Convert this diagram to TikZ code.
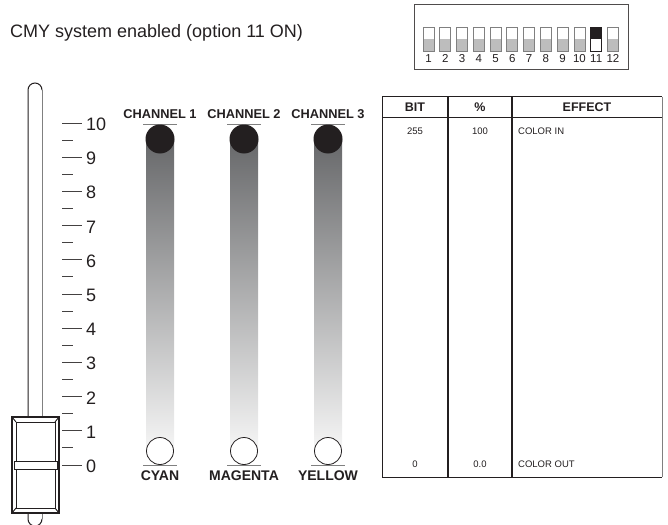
\documentclass[tikz,border=0pt]{standalone}
\usepackage{fontspec}
\setmainfont{Liberation Sans}
\definecolor{ink}{HTML}{231F20}
\definecolor{swgray}{HTML}{BDBDBD}
\definecolor{linegray}{HTML}{808080}
\definecolor{gradtop}{HTML}{67686A}
\definecolor{gradbot}{HTML}{F6F6F6}
\begin{document}
\begin{tikzpicture}[x=1pt,y=-1pt,
  lbl/.style={inner sep=0pt, text=ink},
  big/.style={lbl, font=\fontsize{18}{20}\selectfont},
  chlbl/.style={lbl, font=\bfseries\fontsize{12.8}{14}\selectfont, anchor=base},
  collbl/.style={lbl, font=\bfseries\fontsize{14}{16}\selectfont, anchor=base},
  hdr/.style={lbl, font=\bfseries\fontsize{12.5}{14}\selectfont},
  cell/.style={lbl, font=\fontsize{9.5}{11}\selectfont},
  dipnum/.style={lbl, font=\fontsize{11.5}{13}\selectfont, anchor=base},
  swbox/.style={draw=linegray, line width=0.8pt},
  tick/.style={draw=ink!85, line width=0.9pt},
]
\useasboundingbox (0,0) rectangle (668,524);

% title
\node[big, anchor=base west] (title) at (10,38) {CMY system enabled (option 11 ON)};

% DIP switch
\draw[ink!80, line width=0.9pt] (414,4) rectangle (628,69);
\foreach \i in {1,...,12} {
  \pgfmathsetmacro\xl{423+(\i-1)*16.77}
  \ifnum\i=11
    \fill[ink] (\xl,27) rectangle ++(11,12);
    \draw[draw=ink, line width=0.8pt] (\xl,27) rectangle ++(11,24);
  \else
    \fill[swgray] (\xl,39) rectangle ++(11,12);
    \draw[swbox] (\xl,27) rectangle ++(11,24);
  \fi
  \node[dipnum] (d\i) at (\xl+5.5,63) {\i};
}

% slider track
\draw[ink, line width=1pt] (28,417) -- (28,90) arc (180:0:7pt);
\draw[linegray, line width=1pt] (42,90) -- (42,417);
\draw[ink, line width=1pt] (28,513) -- (28,519) arc (180:360:7pt);
\draw[linegray, line width=1pt] (42,519) -- (42,513);

% slider knob
\filldraw[fill=white, draw=ink, line width=1.1pt] (12,417) rectangle (59,513);
\draw[ink, line width=0.9pt] (16,422) rectangle (55,508);
\draw[ink, line width=0.9pt] (12,417) -- (16,422) (59,417) -- (55,422)
  (12,513) -- (16,508) (59,513) -- (55,508);
\filldraw[fill=white, draw=ink, line width=0.9pt] (14,461) rectangle (57,469);

% scale
\foreach \v in {0,...,10} {
  \pgfmathsetmacro\yy{465-\v*34.2}
  \draw[tick] (62,\yy) -- (82,\yy);
  \node[big, anchor=base west] (s\v) at (86,\yy+7.5) {\v};
}
\foreach \v in {0,...,9} {
  \pgfmathsetmacro\yy{465-(\v+0.5)*34.2}
  \draw[tick] (62,\yy) -- (73,\yy);
}

% channels
\foreach \c/\lab/\bot/\k in {160/CHANNEL 1/CYAN/1, 244/CHANNEL 2/MAGENTA/2, 328/CHANNEL 3/YELLOW/3} {
  \shade[top color=gradtop, bottom color=gradbot] (\c-14,139) rectangle (\c+14,451);
  \draw[linegray, line width=0.9pt] (\c-17,124) -- (\c+17,124);
  \fill[ink] (\c,139) circle[radius=14.5pt];
  \node[chlbl] (ch\k) at (\c,118) {\lab};
  \draw[linegray, line width=0.9pt] (\c-17,465) -- (\c+17,465);
  \filldraw[fill=white, draw=ink, line width=0.8pt] (\c,451) circle[radius=13.5pt];
  \node[collbl] (col\k) at (\c,480) {\bot};
}

% table
\draw[linegray, line width=1pt] (662,97) -- (662,477);
\draw[ink, line width=1pt] (662,97) -- (382,97) -- (382,477) -- (662,477);
\draw[ink, line width=1pt] (382,117) -- (662,117);
\draw[ink, line width=1.3pt] (448,97) -- (448,477) (512,97) -- (512,477);

\node[hdr] (hbit) at (415,107) {BIT};
\node[hdr] (hpct) at (480,107) {\%};
\node[hdr] (heff) at (587,107) {EFFECT};
\node[cell] (r1a) at (415,131) {255};
\node[cell] (r1b) at (480,131) {100};
\node[cell, anchor=west] (r1c) at (518,131) {COLOR IN};
\node[cell] (r2a) at (415,464) {0};
\node[cell] (r2b) at (480,464) {0.0};
\node[cell, anchor=west] (r2c) at (518,464) {COLOR OUT};
\end{tikzpicture}
\end{document}
